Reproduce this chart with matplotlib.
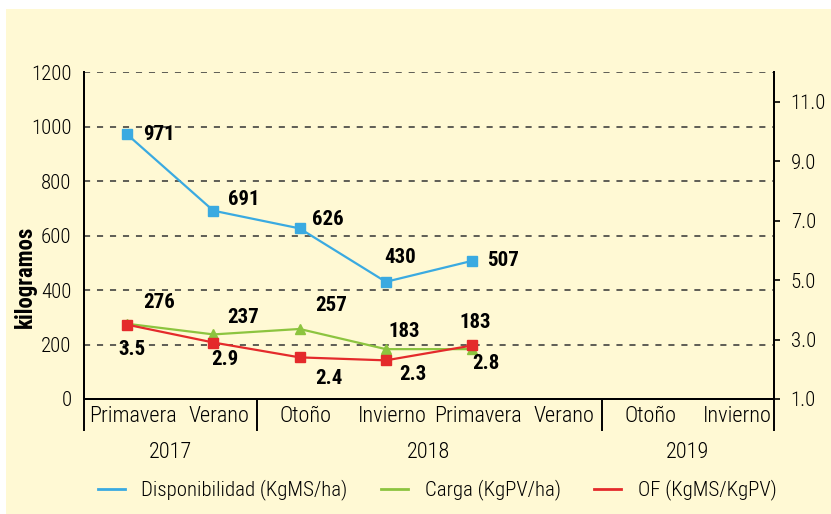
import matplotlib
matplotlib.use('Agg')
import matplotlib.pyplot as plt
import matplotlib.transforms as mtransforms
from matplotlib.patches import Rectangle
from matplotlib.lines import Line2D

plt.rcParams['font.family'] = ['Roboto Condensed', 'DejaVu Sans']
plt.rcParams['font.weight'] = 'light'

# data
estaciones = ['Primavera', 'Verano', 'Otoño', 'Invierno',
              'Primavera', 'Verano', 'Otoño', 'Invierno']
anios = ['2017', '2018', '2019']
anio_centro = [0.5, 3.5, 6.5]
separadores = [-0.5, 1.5, 5.5, 7.5]
disponibilidad = [971, 691, 626, 430, 507]
carga = [276, 237, 257, 183, 183]
of = [3.5, 2.9, 2.4, 2.3, 2.8]

# label offsets (pixels) for the value annotations
off_disp = [(32, 0), (30, 11), (28, 9), (14, 24), (31, 0)]
off_carga = [(32, 21), (30, 17), (32, 23), (18, 18), (3, 27)]
off_of = [(5, -25), (11, -17), (29, -21), (27, -14), (14, -18)]

c_blue = '#3AAAE1'
c_green = '#8CC43F'
c_red = '#E42A2B'
bg = '#FFF9D4'
fs = 15

fig = plt.figure(figsize=(8.31, 5.14), dpi=100)
fig.patch.set_facecolor('white')
fig.patches.append(Rectangle((6 / 831, 0), 1, 1 - 9 / 514, transform=fig.transFigure,
                             facecolor=bg, edgecolor='none', zorder=-10))

ax = fig.add_axes([84 / 831, 1 - 399 / 514, 690 / 831, 327 / 514])
ax.set_facecolor('none')
ax2 = ax.twinx()
ax2.set_facecolor('none')

x = list(range(len(disponibilidad)))

ax.plot(x, disponibilidad, color=c_blue, lw=1.6, marker='s', ms=6.5, zorder=3)
ax.plot(x, carga, color=c_green, lw=1.6, marker='^', ms=7, zorder=3)
ax2.plot(x, of, color=c_red, lw=1.6, marker='s', ms=7, zorder=3)

for xi, v, o in zip(x, disponibilidad, off_disp):
    ax.annotate(str(v), (xi, v), xytext=o, textcoords='offset pixels',
                ha='center', va='center', fontsize=fs, fontweight='bold')
for xi, v, o in zip(x, carga, off_carga):
    ax.annotate(str(v), (xi, v), xytext=o, textcoords='offset pixels',
                ha='center', va='center', fontsize=fs, fontweight='bold')
for xi, v, o in zip(x, of, off_of):
    ax2.annotate(f'{v:.1f}', (xi, v), xytext=o, textcoords='offset pixels',
                 ha='center', va='center', fontsize=fs, fontweight='bold')

# axes
ax.set_xlim(-0.5, 7.5)
ax.set_ylim(0, 1200)
ax.set_yticks(range(0, 1201, 200))
ax2.set_ylim(1, 12)
ax2.set_yticks([1, 3, 5, 7, 9, 11])
ax2.set_yticklabels([f'{t:.1f}' for t in [1, 3, 5, 7, 9, 11]])

for a in (ax, ax2):
    a.spines['top'].set_visible(False)
    for s in ('left', 'right', 'bottom'):
        a.spines[s].set_linewidth(1.4)
        a.spines[s].set_color('black')

ax.set_xticks(range(8))
ax.set_xticklabels(estaciones, fontsize=16)
ax.tick_params(axis='x', length=0, pad=5)
ax.tick_params(axis='y', length=0, pad=9, labelsize=fs)
ax2.tick_params(axis='y', length=4, width=1.2, pad=8, labelsize=fs)

# season labels sit a little right of the point positions in the reference
shift = mtransforms.ScaledTranslation(6 / 100, 0, fig.dpi_scale_trans)
for lbl in ax.get_xticklabels():
    lbl.set_transform(lbl.get_transform() + shift)

for g in range(200, 1201, 200):
    ax.axhline(g, color='#333333', lw=1.1, ls=(0, (4, 4.5)), zorder=1)

# year grouping under the season labels
xt = ax.get_xaxis_transform()
for s in separadores:
    ax.plot([s, s], [0, -31 / 327], color='black', lw=1.4, transform=xt, clip_on=False)
for a_txt, c in zip(anios, anio_centro):
    ax.text(c, -53 / 327, a_txt, transform=xt, ha='center', va='center', fontsize=16)

fig.text(25 / 831, 1 - 277 / 514, 'kilogramos', rotation=90, ha='center', va='center',
         fontsize=16.5, fontweight='bold')

handles = [Line2D([0], [0], color=c_blue, lw=2),
           Line2D([0], [0], color=c_green, lw=2),
           Line2D([0], [0], color=c_red, lw=2)]
labels = ['Disponibilidad (KgMS/ha)', 'Carga (KgPV/ha)', 'OF (KgMS/KgPV)']
fig.legend(handles, labels, loc='center', bbox_to_anchor=(437 / 831, 1 - 490 / 514),
           ncol=3, frameon=False, fontsize=fs, handlelength=1.3, handletextpad=0.8,
           columnspacing=1.6)

fig.savefig('out.png', dpi=100, facecolor=fig.get_facecolor())
